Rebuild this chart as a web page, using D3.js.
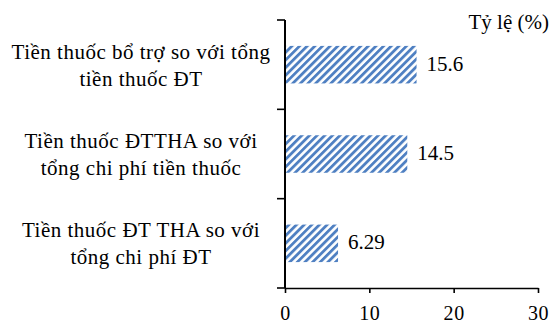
<!DOCTYPE html>
<html>
<head>
<meta charset="utf-8">
<script src="https://cdn.jsdelivr.net/npm/d3@7"></script>
<style>
  html, body { margin: 0; padding: 0; background: #fff; }
</style>
</head>
<body>
<svg id="chart" width="553" height="324"></svg>
<script>
// Category labels (each one wrapped onto two lines)
const categories = [
  ["Tiền thuốc bổ trợ so với tổng", "tiền thuốc ĐT"],
  ["Tiền thuốc ĐTTHA so với", "tổng chi phí tiền thuốc"],
  ["Tiền thuốc ĐT THA so với", "tổng chi phí ĐT"]
];
const values = [15.6, 14.5, 6.29];
const valueLabels = ["15.6", "14.5", "6.29"];
const xTicks = [0, 10, 20, 30];
const unitLabel = "Tỷ lệ (%)";

const svg = d3.select("#chart");
const margin = { left: 285, right: 15, top: 20, bottom: 36 };
const W = 553, H = 324;
const FONT = "'Liberation Serif'";
const FS = 21;

const x = d3.scaleLinear().domain([0, 30]).range([margin.left, W - margin.right]);
const y = d3.scaleBand()
  .domain(d3.range(categories.length))
  .range([margin.top, H - margin.bottom])
  .paddingInner(0.58)
  .paddingOuter(0.29);

// Diagonal hatch fill for bars
const defs = svg.append("defs");
const pat = defs.append("pattern")
  .attr("id", "hatch")
  .attr("patternUnits", "userSpaceOnUse")
  .attr("width", 5.4).attr("height", 5.4)
  .attr("patternTransform", "rotate(45)");
pat.append("rect").attr("width", 5.4).attr("height", 5.4).attr("fill", "#ffffff");
pat.append("rect").attr("width", 2.8).attr("height", 5.4).attr("fill", "#4f80c2");

// Bars
svg.append("g").selectAll("rect")
  .data(values)
  .join("rect")
  .attr("x", x(0))
  .attr("y", (d, i) => y(i))
  .attr("width", d => x(d) - x(0))
  .attr("height", y.bandwidth())
  .attr("fill", "url(#hatch)");

// Value labels
svg.append("g").selectAll("text")
  .data(values)
  .join("text")
  .attr("x", d => x(d) + 10)
  .attr("y", (d, i) => y(i) + y.bandwidth() / 2 + 6)
  .style("font-family", FONT)
  .attr("font-size", FS)
  .attr("fill", "#000")
  .text((d, i) => valueLabels[i]);

// X axis
const xAxis = svg.append("g")
  .attr("transform", `translate(0,${H - margin.bottom})`)
  .call(d3.axisBottom(x).tickValues(xTicks).tickSize(5).tickSizeOuter(0).tickFormat(d3.format("d")));
xAxis.select(".domain").attr("stroke", "#000").attr("stroke-width", 1.6);
xAxis.selectAll(".tick line").attr("stroke", "#000").attr("stroke-width", 1.6);
xAxis.selectAll(".tick text")
  .style("font-family", FONT)
  .attr("font-size", 20)
  .attr("letter-spacing", 0.6)
  .attr("fill", "#000")
  .attr("dy", null)
  .attr("y", 32);

// Y axis: band boundaries get tick marks
const yAxisG = svg.append("g");
yAxisG.append("line")
  .attr("x1", x(0)).attr("x2", x(0))
  .attr("y1", margin.top).attr("y2", H - margin.bottom)
  .attr("stroke", "#000").attr("stroke-width", 2);
const bounds = d3.range(categories.length + 1).map(i =>
  margin.top + i * (H - margin.top - margin.bottom) / categories.length);
yAxisG.selectAll("line.tk")
  .data(bounds)
  .join("line")
  .attr("class", "tk")
  .attr("x1", x(0) - 8).attr("x2", x(0))
  .attr("y1", d => d).attr("y2", d => d)
  .attr("stroke", "#000").attr("stroke-width", 1.6);

// Category labels
const labelCenter = 141;
const lab = svg.append("g").selectAll("text")
  .data(categories)
  .join("text")
  .attr("text-anchor", "middle")
  .style("font-family", FONT)
  .attr("font-size", FS)
  .attr("letter-spacing", 0.5)
  .attr("fill", "#000");
lab.each(function (lines, i) {
  const cy = y(i) + y.bandwidth() / 2;
  d3.select(this).selectAll("tspan")
    .data(lines)
    .join("tspan")
    .attr("x", labelCenter)
    .attr("y", (d, j) => cy - 6 + j * 27)
    .text(d => d);
});

// Unit label
svg.append("text")
  .attr("x", 549)
  .attr("y", 29)
  .attr("text-anchor", "end")
  .style("font-family", FONT)
  .attr("font-size", FS)
  .attr("fill", "#000")
  .text(unitLabel);
</script>
</body>
</html>
